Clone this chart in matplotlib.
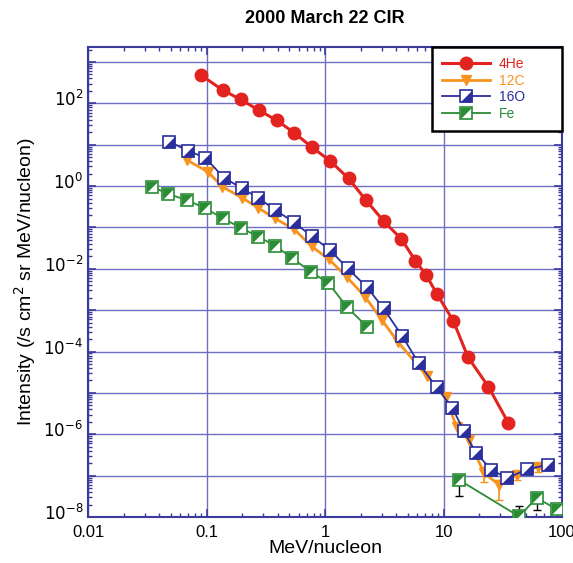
import matplotlib
matplotlib.use("Agg")
import matplotlib.pyplot as plt
import matplotlib.transforms as mtransforms
from matplotlib.ticker import LogLocator, FuncFormatter, NullFormatter
import numpy as np

plt.rcParams['font.family'] = ['Liberation Sans', 'DejaVu Sans']

# 4He
he_x = [0.090, 0.137, 0.194, 0.276, 0.39, 0.55, 0.78, 1.10, 1.58, 2.21, 3.12,
        4.41, 5.79, 7.13, 8.85, 12.1, 16.1, 23.9, 35.1]
he_y = [480, 209, 124, 68.5, 39, 19.4, 8.6, 4.1, 1.53, 0.46, 0.143,
        0.0525, 0.0157, 0.0071, 0.0024, 5.5e-4, 7.3e-5, 1.42e-5, 1.92e-6]

# 12C
c_x = [0.069, 0.103, 0.136, 0.20, 0.272, 0.377, 0.55, 0.77, 1.08, 1.53, 2.18,
       3.02, 4.1, 7.28, 10.4, 12.9, 16.4, 22.0, 29.4, 42.0, 63.0]
c_y = [4.2, 2.2, 0.96, 0.52, 0.30, 0.166, 0.09, 0.035, 0.017, 0.0063, 0.0021,
       5.8e-4, 1.74e-4, 2.5e-5, 7.9e-6, 1.5e-6, 7.3e-7, 1.15e-7, 6.0e-8,
       1.05e-7, 1.66e-7]
c_err_x = [22.0, 29.4, 42.0, 63.0]
c_err_y = [1.15e-7, 6.0e-8, 1.05e-7, 1.66e-7]
c_err_lo = [4.5e-8, 3.4e-8, 2.5e-8, 4.5e-8]
c_err_hi = [4.5e-8, 2.0e-8, 2.5e-8, 3.5e-8]

# 16O
o_x = [0.0486, 0.0703, 0.098, 0.140, 0.20, 0.272, 0.382, 0.546, 0.771, 1.10,
       1.55, 2.26, 3.12, 4.47, 6.18, 8.73, 11.9, 14.9, 18.7, 25.4, 34.6, 51.0, 76.0]
o_y = [11.8, 7.1, 4.8, 1.59, 0.88, 0.52, 0.263, 0.133, 0.062, 0.0284,
       0.0103, 0.0036, 0.0011, 2.4e-4, 5.2e-5, 1.37e-5, 4.3e-6, 1.17e-6,
       3.6e-7, 1.38e-7, 8.7e-8, 1.44e-7, 1.82e-7]

# Fe (low energy part and high energy part)
fe_x_lo = [0.035, 0.0477, 0.068, 0.098, 0.137, 0.194, 0.272, 0.38, 0.53,
           0.757, 1.07, 1.53, 2.26]
fe_y_lo = [0.96, 0.64, 0.46, 0.29, 0.166, 0.099, 0.06, 0.036, 0.018,
           0.0085, 0.0045, 0.0012, 4.0e-4]
fe_x_hi = [13.5, 43.5, 61.0, 90.0]
fe_y_hi = [7.9e-8, 1.03e-8, 2.9e-8, 1.55e-8]
fe_err_x = [13.5, 43.5, 61.0]
fe_err_y = [7.9e-8, 1.03e-8, 2.9e-8]
fe_err_lo = [4.7e-8, 0.0, 1.4e-8]
fe_err_hi = [2.6e-8, 8e-9, 6e-9]

red = '#e3231f'
orange = '#f7931e'
blue = '#2b2f9c'
green = '#2a8c35'
axcol = '#3b3b9e'
gridcol = '#6f6fc4'

lower_right = [(-1, -1), (1, -1), (1, 1)]
upper_left = [(-1, 1), (1, 1), (-1, -1)]

fig = plt.figure(figsize=(5.73, 5.63), dpi=100)
ax = fig.add_axes([0.1536, 0.0817, 0.8272, 0.8348])

ax.set_xscale('log')
ax.set_yscale('log')
ax.set_xlim(0.01, 100)
ax.set_ylim(1e-8, 2.3e3)

ax.grid(True, which='major', color=gridcol, lw=1.0)
ax.set_axisbelow(True)


def half_square(x, y, color, linecolor, tri):
    sq, = ax.plot(x, y, '-', color=linecolor, lw=1.3, marker='s', ms=8,
                  mfc='white', mec=color, mew=1.2, zorder=3)
    tr, = ax.plot(x, y, ls='none', marker=tri, ms=8, mfc=color,
                  mec='none', zorder=4)
    return (sq, tr)


h_he, = ax.plot(he_x, he_y, '-', color=red, lw=2.2, marker='o', ms=9,
                mfc=red, mec=red, zorder=5)
ax.errorbar(c_err_x, c_err_y, yerr=[c_err_lo, c_err_hi], fmt='none',
            ecolor=orange, elinewidth=1.2, capsize=3, zorder=2)
h_c, = ax.plot(c_x, c_y, '-', color=orange, lw=2, marker='v', ms=6.5,
               mfc=orange, mec=orange, zorder=2)
h_o = half_square(o_x, o_y, blue, blue, lower_right)
ax.errorbar(fe_err_x, fe_err_y, yerr=[fe_err_lo, fe_err_hi], fmt='none',
            ecolor='black', elinewidth=1.0, capsize=3, zorder=2)
h_fe = half_square(fe_x_lo, fe_y_lo, green, green, upper_left)
half_square(fe_x_hi, fe_y_hi, green, green, upper_left)

# axes styling
for s in ax.spines.values():
    s.set_color(axcol)
    s.set_linewidth(1.5)
ax.tick_params(which='both', direction='in', top=True, right=True,
               colors=axcol, labelcolor='black', labelsize=12)
ax.tick_params(which='major', length=6, width=1.2)
ax.tick_params(which='minor', length=3, width=1.0)
ax.tick_params(axis='x', pad=6)

ax.xaxis.set_major_locator(LogLocator(base=10, numticks=10))
ax.xaxis.set_minor_locator(LogLocator(base=10, subs=np.arange(2, 10), numticks=10))
ax.xaxis.set_major_formatter(FuncFormatter(lambda v, p: '{:g}'.format(v)))
ax.xaxis.set_minor_formatter(NullFormatter())

ax.yaxis.set_major_locator(LogLocator(base=10, numticks=20))
ax.yaxis.set_minor_locator(LogLocator(base=10, subs=np.arange(2, 10), numticks=20))


def ylab(v, p):
    e = int(round(np.log10(v)))
    return r'$10^{%d}$' % e if e % 2 == 0 else ''


ax.yaxis.set_major_formatter(FuncFormatter(ylab))
ax.yaxis.set_minor_formatter(NullFormatter())

# lift the y tick labels a little, as in the original
shift = mtransforms.ScaledTranslation(0, 4 / 72, fig.dpi_scale_trans)
for lab in ax.get_yticklabels():
    lab.set_transform(lab.get_transform() + shift)

ax.set_xlabel('MeV/nucleon', fontsize=14, labelpad=0)
ax.set_ylabel(r'Intensity (/s cm$^2$ sr MeV/nucleon)', fontsize=14, labelpad=4)

fig.text(0.567, 0.968, '2000 March 22 CIR', ha='center', va='center',
         fontsize=13, fontweight='bold')

leg = ax.legend([h_he, h_c, h_o, h_fe], ['4He', '12C', '16O', 'Fe'],
                loc='upper right', bbox_to_anchor=(0.726, 0.828, 0.274, 0.172),
                mode='expand', fontsize=10, handlelength=3.5,
                handletextpad=0.6, borderpad=0.7, labelspacing=0.2,
                fancybox=False, framealpha=1, edgecolor='black',
                borderaxespad=0)
leg.get_frame().set_linewidth(1.8)
for t, c in zip(leg.get_texts(), [red, orange, blue, green]):
    t.set_color(c)

fig.savefig('out.png', dpi=100)
